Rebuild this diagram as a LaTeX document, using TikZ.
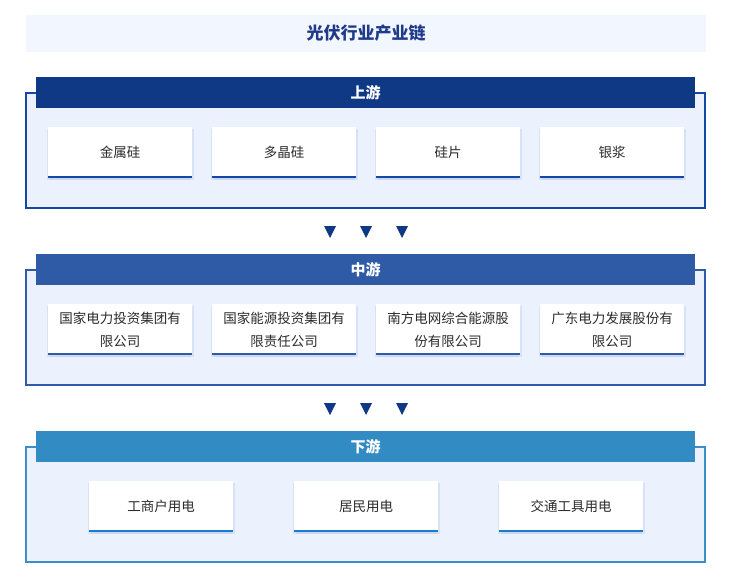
\documentclass[tikz,border=0pt]{standalone}
\usepackage{fontspec}
\setmainfont{Noto Sans CJK SC}
\usetikzlibrary{shadows}
\definecolor{titlebg}{HTML}{F2F6FE}
\definecolor{titleblue}{HTML}{1F3A8A}
\definecolor{secfill}{HTML}{ECF2FD}
\definecolor{upbar}{HTML}{0F3984}
\definecolor{upline}{HTML}{1547A5}
\definecolor{midbar}{HTML}{2E5AA6}
\definecolor{midline}{HTML}{2F5BA8}
\definecolor{lowbar}{HTML}{338BC4}
\definecolor{lowline}{HTML}{3A8FC8}
\definecolor{lowcard}{HTML}{1A7CC9}
\definecolor{txtgray}{HTML}{2B2B2B}
\definecolor{shadowblue}{HTML}{A9BEE6}
\begin{document}
\begin{tikzpicture}[x=1pt, y=-1pt,
    card/.style={fill=white, minimum width=144pt, minimum height=51pt, inner sep=0pt,
      align=center, text=txtgray, font=\fontsize{13.5}{23}\selectfont,
      drop shadow={shadow xshift=1.5pt, shadow yshift=-2pt, opacity=0.3, fill=shadowblue},
      drop shadow={shadow xshift=-1.5pt, shadow yshift=-2pt, opacity=0.3, fill=shadowblue}},
    bar/.style={minimum width=659pt, minimum height=31pt, inner sep=0pt, text=white,
      font=\bfseries\fontsize{15}{18}\selectfont},
    frame/.style={line width=2pt, fill=secfill},
    cardline/.style={line width=2pt}]
  \useasboundingbox[fill=white] (0,0) rectangle (741,582);
  \def\dy{177}%
  %
  \node[fill=titlebg, minimum width=680pt, minimum height=37pt, inner sep=0pt,
    text=titleblue, font=\bfseries\fontsize{17}{20}\selectfont] (title) at (366,33.5) {光伏行业产业链};
  %
  % upstream
  \draw[frame, draw=upline] (26,93) rectangle (705,208);
  \node[bar, fill=upbar] (upbar) at (365.5,92.5) {上游};
  \node[card] (u1) at (120,152.5) {金属硅};
  \node[card] (u2) at (284,152.5) {多晶硅};
  \node[card] (u3) at (448,152.5) {硅片};
  \node[card] (u4) at (612,152.5) {银浆};
  \draw[cardline, upline] ([yshift=1pt]u1.south west) -- ([yshift=1pt]u1.south east);
  \draw[cardline, upline] ([yshift=1pt]u2.south west) -- ([yshift=1pt]u2.south east);
  \draw[cardline, upline] ([yshift=1pt]u3.south west) -- ([yshift=1pt]u3.south east);
  \draw[cardline, upline] ([yshift=1pt]u4.south west) -- ([yshift=1pt]u4.south east);
  %
  % arrows
  \fill[upbar] (324,226) -- (336,226) -- (330,238) -- cycle;
  \fill[upbar] (360,226) -- (372,226) -- (366,238) -- cycle;
  \fill[upbar] (396,226) -- (408,226) -- (402,238) -- cycle;
  %
  % midstream
  \draw[frame, draw=midline] (26,93+\dy) rectangle (705,208+\dy);
  \node[bar, fill=midbar] (midbar) at (365.5,92.5+\dy) {中游};
  \node[card] (m1) at (120,152.5+\dy) {国家电力投资集团有\\限公司};
  \node[card] (m2) at (284,152.5+\dy) {国家能源投资集团有\\限责任公司};
  \node[card] (m3) at (448,152.5+\dy) {南方电网综合能源股\\份有限公司};
  \node[card] (m4) at (612,152.5+\dy) {广东电力发展股份有\\限公司};
  \draw[cardline, midline] ([yshift=1pt]m1.south west) -- ([yshift=1pt]m1.south east);
  \draw[cardline, midline] ([yshift=1pt]m2.south west) -- ([yshift=1pt]m2.south east);
  \draw[cardline, midline] ([yshift=1pt]m3.south west) -- ([yshift=1pt]m3.south east);
  \draw[cardline, midline] ([yshift=1pt]m4.south west) -- ([yshift=1pt]m4.south east);
  %
  % arrows
  \fill[upbar] (324,403) -- (336,403) -- (330,415) -- cycle;
  \fill[upbar] (360,403) -- (372,403) -- (366,415) -- cycle;
  \fill[upbar] (396,403) -- (408,403) -- (402,415) -- cycle;
  %
  % downstream
  \draw[frame, draw=lowline] (26,93+2*\dy) rectangle (705,208+2*\dy);
  \node[bar, fill=lowbar] (lowbar) at (365.5,92.5+2*\dy) {下游};
  \node[card] (d1) at (161,152.5+2*\dy) {工商户用电};
  \node[card] (d2) at (366,152.5+2*\dy) {居民用电};
  \node[card] (d3) at (571,152.5+2*\dy) {交通工具用电};
  \draw[cardline, lowcard] ([yshift=1pt]d1.south west) -- ([yshift=1pt]d1.south east);
  \draw[cardline, lowcard] ([yshift=1pt]d2.south west) -- ([yshift=1pt]d2.south east);
  \draw[cardline, lowcard] ([yshift=1pt]d3.south west) -- ([yshift=1pt]d3.south east);
\end{tikzpicture}
\end{document}
